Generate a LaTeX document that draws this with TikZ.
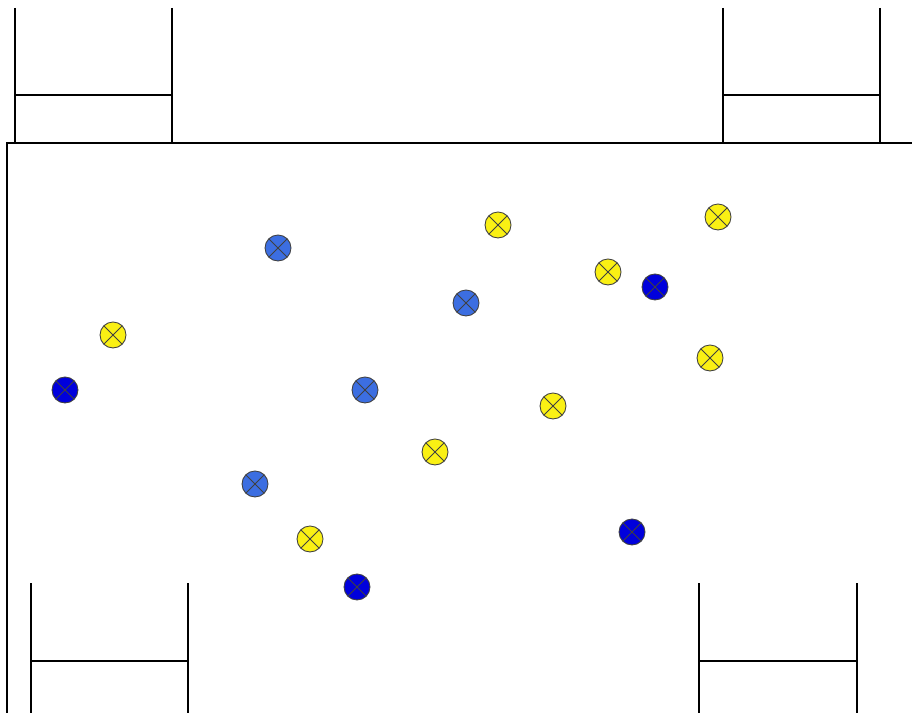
\documentclass[tikz,border=0pt]{standalone}
\definecolor{ballyellow}{RGB}{250,240,20}
\definecolor{ballblue}{RGB}{60,110,225}
\definecolor{balldark}{RGB}{0,0,220}
\tikzset{
  ball/.style={circle,draw=black!75,line width=0.5pt,inner sep=0pt,minimum size=0.52cm,
    path picture={
      \draw[black!75,line width=0.5pt] (path picture bounding box.north west) -- (path picture bounding box.south east)
        (path picture bounding box.north east) -- (path picture bounding box.south west);}},
  yball/.style={ball,fill=ballyellow},
  bball/.style={ball,fill=ballblue},
  dball/.style={ball,fill=balldark},
}
\begin{document}
\begin{tikzpicture}[line width=0.6pt]
  \useasboundingbox (0,0) rectangle (18.24,14.26);

  % 场地
  \draw (0.14,0) -- (0.14,11.4) -- (18.24,11.4);

  % 上方两个框
  \draw (0.30,14.1) -- (0.30,11.4) (3.44,14.1) -- (3.44,11.4);
  \draw (0.30,12.36) -- (3.44,12.36);
  \draw (14.46,14.1) -- (14.46,11.4) (17.6,14.1) -- (17.6,11.4);
  \draw (14.46,12.36) -- (17.6,12.36);

  % 下方两个框
  \draw (0.62,0) -- (0.62,2.6) (3.76,0) -- (3.76,2.6);
  \draw (0.62,1.04) -- (3.76,1.04);
  \draw (13.98,0) -- (13.98,2.6) (17.14,0) -- (17.14,2.6);
  \draw (13.98,1.04) -- (17.14,1.04);

  % 黄色
  \foreach \x/\y [count=\i] in {9.96/9.76,14.36/9.92,12.16/8.82,2.26/7.56,14.2/7.1,11.06/6.14,8.7/5.22,6.2/3.48}
    \node[yball] (y\i) at (\x,\y) {};

  % 浅蓝
  \foreach \x/\y [count=\i] in {5.56/9.3,9.32/8.2,7.3/6.46,5.1/4.58}
    \node[bball] (b\i) at (\x,\y) {};

  % 深蓝
  \foreach \x/\y [count=\i] in {13.1/8.52,1.3/6.46,12.64/3.62,7.14/2.52}
    \node[dball] (d\i) at (\x,\y) {};
\end{tikzpicture}
\end{document}
